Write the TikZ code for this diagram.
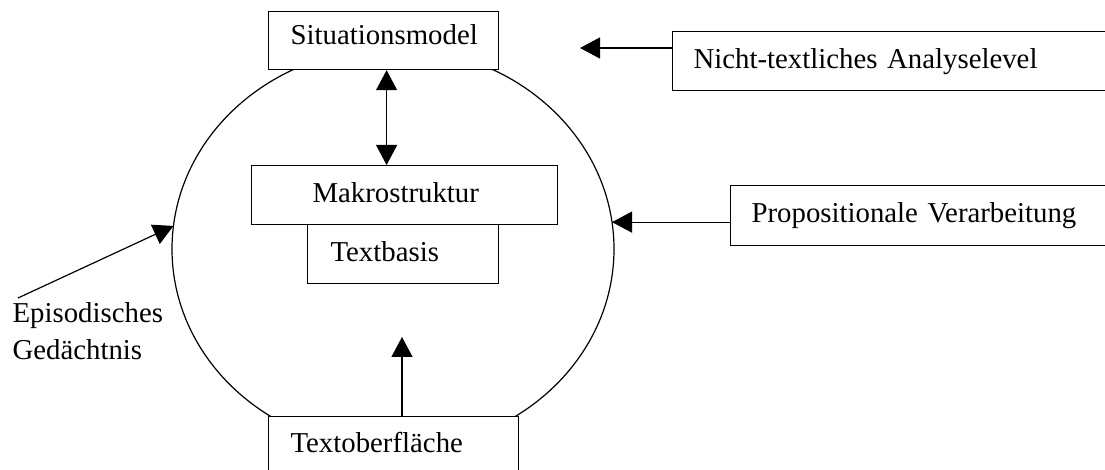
\documentclass[tikz,border=0pt]{standalone}
\usepackage{fontspec}
\setmainfont{Liberation Serif}
\usetikzlibrary{arrows.meta,shapes.geometric}

\begin{document}
\begin{tikzpicture}[x=0.5pt, y=-0.5pt, line width=0.6pt,
    every node/.style={font=\fontsize{14.4pt}{18.5pt}\selectfont},
    box/.style={draw, fill=white, anchor=north west, align=left, minimum height=29.5pt,
      inner ysep=2pt, text height=10pt, text depth=3pt},
    pfeil/.style={-{Triangle[length=10pt, width=10.5pt]}},
    doppelpfeil/.style={{Triangle[length=10pt, width=10.5pt]}-{Triangle[length=10pt, width=10.5pt]}}]
      \clip (0, 0) rectangle (1105, 470);

      \node[ellipse, draw, minimum width=221pt, minimum height=201pt, inner sep=0pt, outer sep=0pt] (kreis) at (393, 249) {};

      \node[box, minimum height=29pt, inner xsep=11pt, text width=93pt, text depth=6pt] (situation) at (268, 11) {Situationsmodel};
      \node[box, inner xsep=30.5pt, text width=92pt] (makro) at (251, 165) {Makrostruktur};
      \node[box, inner xsep=11.5pt, text width=72.5pt] (basis) at (307, 224) {Textbasis};
      \node[box, minimum height=29pt, inner xsep=11pt, text width=103pt] (ober) at (268, 416) {Textoberfläche};
      \node[box, inner xsep=10.5pt, text width=200pt] (nicht) at (672, 31) {Nicht-textliches Analyselevel};
      \node[box, minimum height=30pt, inner xsep=10.5pt, text width=180pt] (prop) at (730, 185) {Propositionale Verarbeitung};
      \node[anchor=north west, align=left, inner sep=0pt] (epi) at (12, 302) {Episodisches\\Gedächtnis};

      \coordinate (nichtziel) at (580, 48);
      \coordinate (oberziel) at (402, 337);

      \draw[doppelpfeil] ([xshift=1.5pt]situation.south) -- ([xshift=1.5pt]situation.south |- makro.north);
      \draw[pfeil] (nichtziel -| nicht.west) -- (nichtziel);
      \draw[pfeil] (kreis.7 -| prop.west) -- (kreis.7);
      \draw[pfeil] ([xshift=3pt, yshift=2pt]epi.north west) -- (kreis.174);
      \draw[pfeil] (oberziel |- ober.north) -- (oberziel);
    \end{tikzpicture}
\end{document}
